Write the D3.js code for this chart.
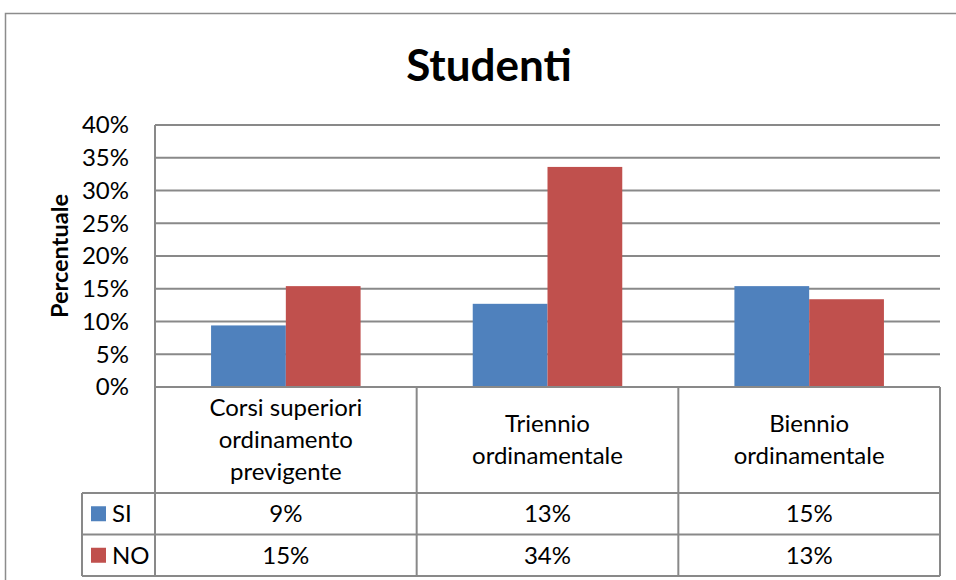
<html>
    <head>
        <script src="https://d3js.org/d3.v7.min.js"></script>
        <style>
            body{ margin:0; background:#fff; }
            text{ font-family: Lato, "Liberation Sans", sans-serif; fill:#000; }
        </style>
    </head>
    <body>
        <svg id="svg" width="956" height="580"></svg>
        <script>
            // chart data
            var categories = [["Corsi superiori","ordinamento","previgente"],["Triennio","ordinamentale"],["Biennio","ordinamentale"]];
            var seriesNames = ["SI","NO"];
            var siValues = [0.094, 0.127, 0.154];
            var noValues = [0.154, 0.336, 0.134];
            var yTicks = [0, 0.05, 0.10, 0.15, 0.20, 0.25, 0.30, 0.35, 0.40];
            var colors = ["#4F81BD","#C0504D"];

            var svg = d3.select("svg");
            var pL = 155, pR = 940, pT = 125, pB = 387;
            var tableLeft = 82, headBottom = 493, rowH = 41.5;
            var grid = "#898989";
            var fs = "24px";

            var catIdx = categories.map(function(d,i){ return i; });
            var x = d3.scaleBand().domain(catIdx).range([pL, pR]);
            var x1 = d3.scaleBand().domain(seriesNames).range([0, x.bandwidth()]).paddingOuter(0.75);
            var y = d3.scaleLinear().domain([0, 0.40]).range([pB, pT]);
            var fmt = d3.format(".0%");

            // outer border
            svg.append("rect").attr("x",5.5).attr("y",13.5).attr("width",1000).attr("height",700)
                .attr("fill","none").attr("stroke","#8c8c8c").attr("stroke-width",1.5);

            // title
            svg.append("text").attr("x",489).attr("y",81).attr("text-anchor","middle")
                .style("font-size","44px").style("font-weight","bold").text("Studenti");

            // gridlines
            svg.append("g").selectAll("line").data(yTicks).enter().append("line")
                .attr("x1",pL).attr("x2",pR)
                .attr("y1",function(d){ return y(d); }).attr("y2",function(d){ return y(d); })
                .attr("stroke",grid).attr("stroke-width",2);

            // y labels
            svg.append("g").selectAll("text").data(yTicks).enter().append("text")
                .attr("x",129).attr("y",function(d){ return y(d); }).attr("dy","0.35em")
                .attr("text-anchor","end").style("font-size",fs).text(fmt);

            svg.append("text").attr("transform","translate(68,"+((pT+pB)/2)+") rotate(-90)")
                .attr("text-anchor","middle").style("font-size","23.5px").style("font-weight","bold")
                .text("Percentuale");

            // bars
            var series = [siValues, noValues];
            series.forEach(function(vals, s){
                svg.append("g").selectAll("rect").data(vals).enter().append("rect")
                    .attr("x",function(d,i){ return x(i) + x1(seriesNames[s]); })
                    .attr("width",x1.bandwidth())
                    .attr("y",function(d){ return y(d); })
                    .attr("height",function(d){ return pB - y(d); })
                    .attr("fill",colors[s]);
            });

            // data table
            var t = svg.append("g").attr("stroke",grid).attr("stroke-width",2);
            t.append("line").attr("x1",pL).attr("x2",pL).attr("y1",pT).attr("y2",headBottom+2*rowH);
            t.append("line").attr("x1",pL).attr("x2",pR).attr("y1",pB).attr("y2",pB);
            [headBottom, headBottom+rowH, headBottom+2*rowH].forEach(function(yy){
                t.append("line").attr("x1",tableLeft).attr("x2",pR).attr("y1",yy).attr("y2",yy);
            });
            t.append("line").attr("x1",tableLeft).attr("x2",tableLeft).attr("y1",headBottom).attr("y2",headBottom+2*rowH);
            catIdx.forEach(function(i){
                var xx = x(i) + x.bandwidth();
                t.append("line").attr("x1",xx).attr("x2",xx).attr("y1",pB).attr("y2",headBottom+2*rowH);
            });

            // category labels
            var lh = 32;
            categories.forEach(function(lines, i){
                var cx = x(i) + x.bandwidth()/2;
                var y0 = (pB+headBottom)/2 - (lines.length-1)*lh/2;
                lines.forEach(function(l, k){
                    svg.append("text").attr("x",cx).attr("y",y0 + k*lh).attr("dy","0.35em")
                        .attr("text-anchor","middle").style("font-size",fs).text(l);
                });
            });

            // value rows + legend keys
            series.forEach(function(vals, s){
                var cy = headBottom + rowH*s + rowH/2;
                svg.append("rect").attr("x",91).attr("y",cy-7.5).attr("width",15).attr("height",15).attr("fill",colors[s]);
                svg.append("text").attr("x",112).attr("y",cy).attr("dy","0.35em").style("font-size",fs).text(seriesNames[s]);
                vals.forEach(function(v, i){
                    svg.append("text").attr("x",x(i)+x.bandwidth()/2).attr("y",cy).attr("dy","0.35em")
                        .attr("text-anchor","middle").style("font-size",fs).text(fmt(v));
                });
            });
        </script>
    </body>
</html>
